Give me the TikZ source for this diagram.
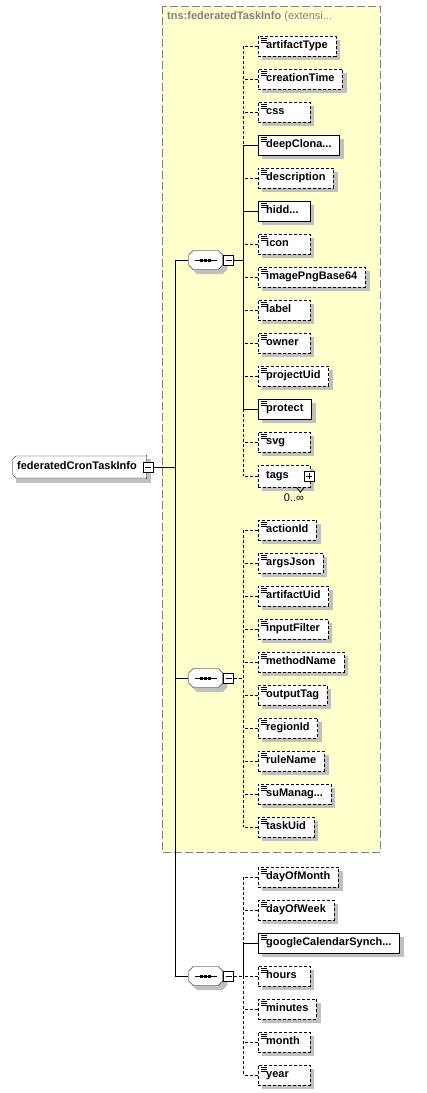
\documentclass[tikz,border=0pt]{standalone}
\usepackage{fontspec}
\setmainfont{Liberation Sans}
\usetikzlibrary{positioning}

\definecolor{extyellow}{RGB}{255,255,204}
\definecolor{extgrey}{RGB}{128,128,128}
\definecolor{shadegrey}{RGB}{192,192,192}

\pgfdeclarelayer{back}
\pgfdeclarelayer{shade}
\pgfsetlayers{back,shade,main}

\newlength\elw
\newcommand\etxt[1]{\settowidth\elw{#1}\ifdim\elw<36pt\elw=36pt\fi\makebox[\elw][l]{#1}}
% chamfered outline inside a path picture: #1 cut on the left, #2 cut on the right
\newcommand\chamfer[2]{%
  \filldraw[solid, fill=white]
    ([xshift=#1, yshift=-.5pt]path picture bounding box.north west) --
    ([xshift=-#2, yshift=-.5pt]path picture bounding box.north east) --
    ([xshift=-.5pt, yshift=-#2]path picture bounding box.north east) --
    ([xshift=-.5pt, yshift=#2]path picture bounding box.south east) --
    ([xshift=-#2, yshift=.5pt]path picture bounding box.south east) --
    ([xshift=#1, yshift=.5pt]path picture bounding box.south west) --
    ([xshift=.5pt, yshift=#1]path picture bounding box.south west) --
    ([xshift=.5pt, yshift=-#1]path picture bounding box.north west) -- cycle;}

\tikzset{
  elfont/.style={font=\fontsize{11}{13}\selectfont\bfseries},
  elbox/.style={draw, fill=white, anchor=west, inner xsep=8pt, inner ysep=0pt,
    minimum height=20pt, text height=8pt, text depth=2.5pt, elfont},
  simple/.style={path picture={
      \foreach \dy in {2,4,6}
        \draw[solid, line width=0.8pt] ([xshift=3pt, yshift=-\dy pt]path picture bounding box.north west) -- ++(6pt,0pt);}},
  optline/.style={dash pattern=on 3pt off 2pt},
  opt/.style={elbox, simple, optline, node contents=\etxt{#1}},
  req/.style={elbox, simple, solid, node contents=\etxt{#1}},
  optc/.style={elbox, optline, minimum height=22pt, node contents=\etxt{#1}},
  seqbox/.style={minimum width=35pt, minimum height=20pt, inner sep=0pt, anchor=west,
    path picture={
      \chamfer{5pt}{5pt}
      \draw ([xshift=-11pt]path picture bounding box.center) -- ([xshift=11pt]path picture bounding box.center);
      \foreach \dx in {-4,0,4}
        \fill ([xshift=\dx pt]path picture bounding box.center) +(-1.5pt,-1.5pt) rectangle +(1.5pt,1.5pt);}},
  mbox/.style={draw, solid, fill=white, minimum size=10pt, inner sep=0pt,
    path picture={\draw ([xshift=-3pt]path picture bounding box.center) -- ([xshift=3pt]path picture bounding box.center);}},
  pbox/.style={mbox, path picture={
      \draw ([xshift=-3pt]path picture bounding box.center) -- ([xshift=3pt]path picture bounding box.center);
      \draw ([yshift=-3pt]path picture bounding box.center) -- ([yshift=3pt]path picture bounding box.center);}},
  root/.style={minimum height=23pt, inner xsep=5pt, inner ysep=0pt, text height=8pt, text depth=2.5pt,
    elfont, anchor=west, path picture={\chamfer{4pt}{0pt}}}
}

\begin{document}
\begin{tikzpicture}[x=1pt, y=-1pt, line width=1pt]
\useasboundingbox (0,0) rectangle (427,1093);

% extension of the base type
\begin{pgfonlayer}{back}
\draw[extgrey, fill=extyellow, dash pattern=on 8pt off 3pt] (162,6) rectangle (380,852);
\end{pgfonlayer}
\node[anchor=west, text=extgrey, font=\fontsize{11}{13}\selectfont, inner sep=0pt] (base) at (167,17)
  {\textbf{tns:federatedTaskInfo} (extensi...};

% root element
\node[root] (root) at (12,467) {federatedCronTaskInfo\hspace*{5pt}};
\node[mbox] (rootm) at ([xshift=1pt]root.east) {};

\coordinate (trunk) at (175,0);
\coordinate (branch) at (243,0);

% sequences
\node[seqbox] (seq1) at (188,260) {};
\node[mbox, right=0pt of seq1] (seq1m) {};
\node[seqbox] (seq2) at (188,678) {};
\node[mbox, right=0pt of seq2] (seq2m) {};
\node[seqbox] (seq3) at (188,976) {};
\node[mbox, right=0pt of seq3] (seq3m) {};

% first sequence
\node (artifactType) at (258,46) [opt=artifactType];
\node (creationTime) at (258,79) [opt=creationTime];
\node (css) at (258,112) [opt=css];
\node (deepClona) at (258,145) [req=deepClona...];
\node (description) at (258,178) [opt=description];
\node (hidd) at (258,211) [req=hidd...];
\node (icon) at (258,244) [opt=icon];
\node (imagePngBase64) at (258,277) [opt=imagePngBase64];
\node (label) at (258,310) [opt=label];
\node (owner) at (258,343) [opt=owner];
\node (projectUid) at (258,376) [opt=projectUid];
\node (protect) at (258,409) [req=protect];
\node (svg) at (258,442) [opt=svg];
\node (tags) at (258,476) [optc=tags];
\node[pbox] (tagsp) at ([xshift=-1pt]tags.east) {};
\draw[line width=0.8pt] ([xshift=-14pt]tags.south east) -- ++(4pt,-5pt) -- ++(4pt,5pt);
\node[font=\fontsize{11}{13}\selectfont, inner sep=0pt] (tagsocc) at (294,498) {0..∞};

% second sequence
\node (actionId) at (258,530) [opt=actionId];
\node (argsJson) at (258,563) [opt=argsJson];
\node (artifactUid) at (258,596) [opt=artifactUid];
\node (inputFilter) at (258,629) [opt=inputFilter];
\node (methodName) at (258,662) [opt=methodName];
\node (outputTag) at (258,695) [opt=outputTag];
\node (regionId) at (258,728) [opt=regionId];
\node (ruleName) at (258,761) [opt=ruleName];
\node (suManag) at (258,794) [opt=suManag...];
\node (taskUid) at (258,827) [opt=taskUid];

% third sequence
\node (dayOfMonth) at (258,877) [opt=dayOfMonth];
\node (dayOfWeek) at (258,910) [opt=dayOfWeek];
\node (googleCal) at (258,943) [req=googleCalendarSynch...];
\node (hours) at (258,976) [opt=hours];
\node (minutes) at (258,1009) [opt=minutes];
\node (month) at (258,1042) [opt=month];
\node (year) at (258,1075) [opt=year];

% shadows
\begin{pgfonlayer}{shade}
\foreach \n in {root,artifactType,creationTime,css,deepClona,description,hidd,icon,imagePngBase64,label,
    owner,projectUid,protect,svg,tags,actionId,argsJson,artifactUid,inputFilter,methodName,outputTag,
    regionId,ruleName,suManag,taskUid,dayOfMonth,dayOfWeek,googleCal,hours,minutes,month,year}
  \fill[shadegrey] ([xshift=4pt, yshift=-4pt]\n.north west) rectangle ([xshift=4pt, yshift=-4pt]\n.south east);
\foreach \s in {seq1,seq2,seq3}
  \fill[shadegrey] ([xshift=9pt, yshift=-4pt]\s.north west) -- ([xshift=-1pt, yshift=-4pt]\s.north east)
    -- ([xshift=4pt, yshift=-9pt]\s.north east) -- ([xshift=4pt, yshift=1pt]\s.south east)
    -- ([xshift=-1pt, yshift=-4pt]\s.south east) -- ([xshift=9pt, yshift=-4pt]\s.south west)
    -- ([xshift=4pt, yshift=1pt]\s.south west) -- ([xshift=4pt, yshift=-9pt]\s.north west) -- cycle;
\end{pgfonlayer}

% connectors
\draw (rootm.east) -- (rootm.east -| trunk);
\draw (seq1.west -| trunk) -- (seq3.west -| trunk);
\foreach \s in {seq1,seq2,seq3}
  \draw (\s.west -| trunk) -- (\s.west);

\draw (seq1m.east) -- (seq1m.east -| branch);
\draw[optline] (seq2m.east) -- (seq2m.east -| branch);
\draw[optline] (seq3m.east) -- (seq3m.east -| branch);

\foreach \n in {artifactType,creationTime,css,description,icon,imagePngBase64,label,owner,projectUid,svg,tags,
    actionId,argsJson,artifactUid,inputFilter,methodName,outputTag,regionId,ruleName,suManag,taskUid,
    dayOfMonth,dayOfWeek,hours,minutes,month,year}
  \draw[optline] (\n.west) -- (\n.west -| branch);
\foreach \n in {deepClona,hidd,protect,googleCal}
  \draw (\n.west) -- (\n.west -| branch);

\draw[optline] (artifactType.west -| branch) -- (deepClona.west -| branch);
\draw (deepClona.west -| branch) -- (protect.west -| branch);
\draw[optline] (protect.west -| branch) -- (tags.west -| branch);
\draw[optline] (actionId.west -| branch) -- (taskUid.west -| branch);
\draw[optline] (dayOfMonth.west -| branch) -- (googleCal.west -| branch);
\draw (googleCal.west -| branch) -- (hours.west -| branch);
\draw[optline] (hours.west -| branch) -- (year.west -| branch);
\end{tikzpicture}
\end{document}
